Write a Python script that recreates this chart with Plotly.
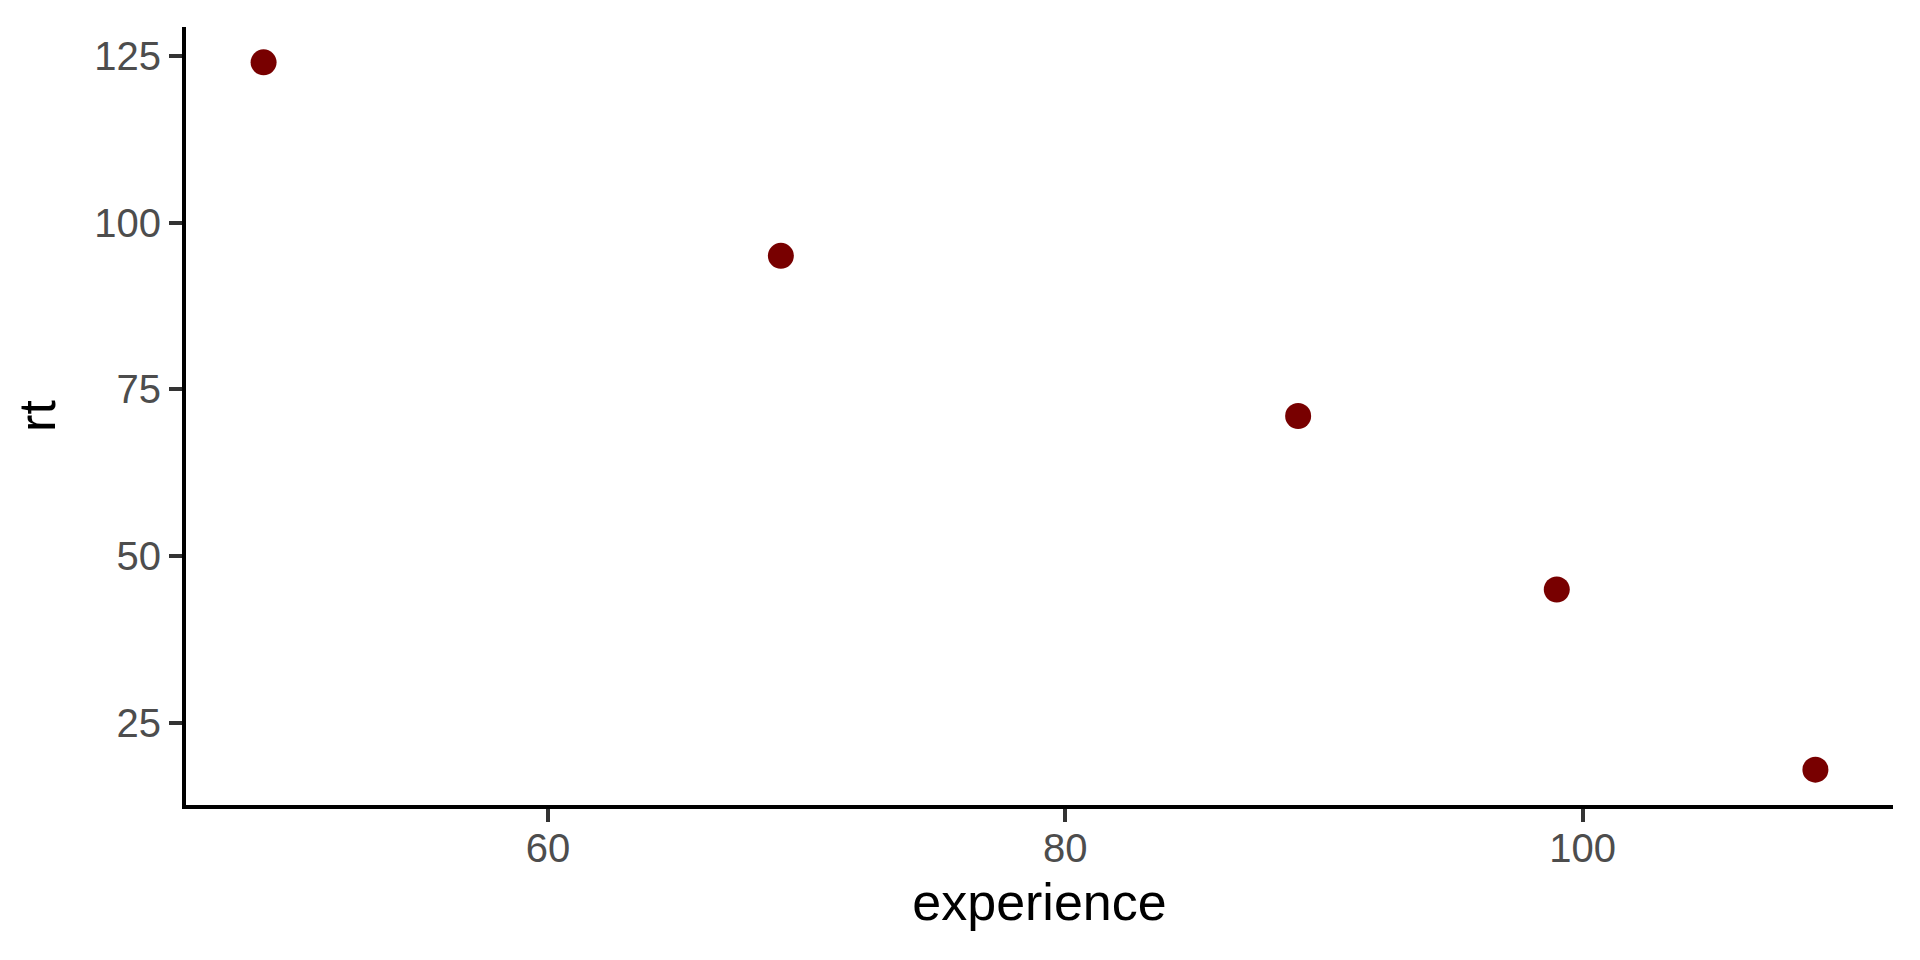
import plotly.graph_objects as go

experience = [49, 69, 89, 99, 109]
rt = [124, 95, 71, 45, 18]

x_ticks = [60, 80, 100]
y_ticks = [25, 50, 75, 100, 125]

FONT = "Liberation Sans, Arial, Helvetica, sans-serif"

fig = go.Figure(
    go.Scatter(
        x=experience, y=rt, mode="markers",
        marker=dict(size=26, color="#780000", line=dict(width=0)),
        showlegend=False,
    )
)

axis_common = dict(
    showline=True, linecolor="black", linewidth=4, mirror=False,
    showgrid=False, zeroline=False,
    ticks="outside", ticklen=13, tickwidth=4, tickcolor="#333333",
    tickfont=dict(family=FONT, size=40, color="#4D4D4D"),
)

fig.update_layout(
    width=1904, height=944,
    margin=dict(l=178, r=19, t=19, b=147),
    paper_bgcolor="white", plot_bgcolor="white",
    font=dict(family=FONT),
    xaxis=dict(
        range=[46, 112], tickvals=x_ticks, ticktext=[str(v) for v in x_ticks],
        ticklabelstandoff=-8,
        title=dict(text="experience", font=dict(family=FONT, size=52, color="black"), standoff=16),
        **axis_common,
    ),
    yaxis=dict(
        range=[12.7, 129.3], tickvals=y_ticks, ticktext=[str(v) for v in y_ticks],
        title=dict(text="rt", font=dict(family=FONT, size=52, color="black"), standoff=25),
        **axis_common,
    ),
)

fig.write_html("out.html")
